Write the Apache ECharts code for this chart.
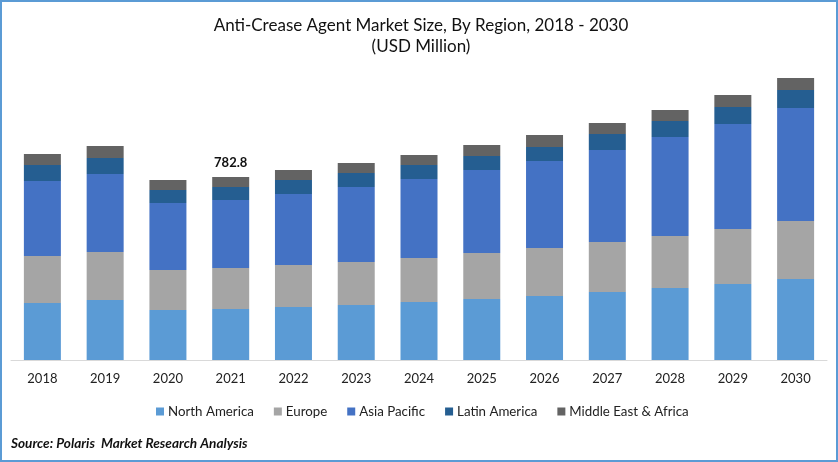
<!DOCTYPE html>
<html>
<head>
<meta charset="utf-8">
<style>
html, body { margin: 0; padding: 0; background: #fff; }
#chart { width: 838px; height: 462px; }
</style>
<script src="https://cdn.jsdelivr.net/npm/echarts@6/dist/echarts.min.js"></script>
</head>
<body>
<div id="chart"></div>
<script>
const FONT = 'Lato, Carlito, sans-serif';

const years = ['2018', '2019', '2020', '2021', '2022', '2023', '2024', '2025', '2026', '2027', '2028', '2029', '2030'];

const northAmerica = [243.8, 256.7, 213.9, 218.2, 226.7, 235.3, 248.1, 261.0, 273.8, 290.9, 308.0, 325.1, 346.5];
const europe = [201.1, 205.3, 171.1, 175.4, 179.7, 184.0, 188.2, 196.8, 205.3, 213.9, 222.5, 235.3, 248.1];
const asiaPacific = [320.8, 333.7, 286.6, 290.9, 303.7, 320.8, 338.0, 355.1, 372.2, 393.6, 423.5, 449.2, 483.4];
const latinAmerica = [68.4, 68.4, 55.6, 55.6, 59.9, 59.9, 59.9, 59.9, 59.9, 68.4, 68.4, 72.7, 77.0];
const middleEast = [47.1, 51.3, 42.8, 42.7, 42.8, 42.8, 42.8, 47.1, 51.3, 47.1, 47.1, 51.3, 51.3];

// only one total is printed on the chart
const labelledYear = '2021';
const labelledTotal = '782.8';

let myChart = echarts.init(document.getElementById('chart'), null, {renderer: 'canvas'});

function makeSeries(name, values, color)
{
    return {
        name: name,
        type: 'bar',
        stack: 'region',
        barWidth: 37,
        data: values,
        itemStyle: {color: color},
        animation: false
    };
}

let series = [
    makeSeries('North America', northAmerica, '#5B9BD5'),
    makeSeries('Europe', europe, '#A5A5A5'),
    makeSeries('Asia Pacific', asiaPacific, '#4472C4'),
    makeSeries('Latin America', latinAmerica, '#255E91'),
    makeSeries('Middle East & Africa', middleEast, '#636363')
];

// total label sits on top of the last stack
series[4].label = {
    show: true,
    position: 'top',
    distance: 8,
    fontFamily: FONT,
    fontSize: 13,
    fontWeight: 'bold',
    color: '#111',
    formatter: function (p)
    {
        return p.name === labelledYear ? labelledTotal : '';
    }
};

let option = {
    backgroundColor: '#fff',
    animation: false,
    title: [
        {
            text: 'Anti-Crease Agent Market Size, By Region, 2018 - 2030',
            left: 416,
            top: 12,
            textAlign: 'center',
            textStyle: {fontFamily: FONT, fontSize: 17, fontWeight: 'normal', color: '#111'}
        },
        {
            text: '(USD Million)',
            left: 416,
            top: 33,
            textAlign: 'center',
            textStyle: {fontFamily: FONT, fontSize: 17, fontWeight: 'normal', color: '#111'}
        },
        {
            text: 'Source: Polaris  Market Research Analysis',
            left: 6,
            top: 432,
            textStyle: {fontFamily: FONT, fontSize: 13.6, fontWeight: 'bold', fontStyle: 'italic', color: '#111'}
        }
    ],
    legend: {
        left: 151,
        top: 400,
        itemWidth: 8,
        itemHeight: 8,
        itemGap: 20,
        icon: 'rect',
        textStyle: {fontFamily: FONT, fontSize: 13.3, color: '#222', padding: [0, 0, 0, -1]}
    },
    grid: {left: 11, right: 11, top: 9.4, bottom: 102},
    xAxis: {
        type: 'category',
        data: years,
        axisTick: {show: false},
        axisLine: {lineStyle: {color: '#D9D9D9', width: 1}},
        axisLabel: {fontFamily: FONT, fontSize: 13, color: '#222', margin: 12}
    },
    yAxis: {
        type: 'value',
        min: 0,
        max: 1500,
        show: false
    },
    series: series,
    graphic: [{
        type: 'rect',
        silent: true,
        shape: {x: 1, y: 1, width: 836, height: 460},
        style: {fill: 'none', stroke: '#5B9BD5', lineWidth: 2}
    }]
};

myChart.setOption(option);
</script>
</body>
</html>
